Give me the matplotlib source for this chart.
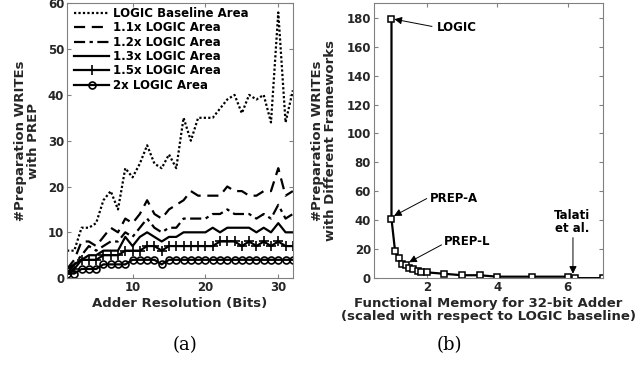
import matplotlib
matplotlib.use("Agg")
import matplotlib.pyplot as plt

# ---- data: (a) writes vs adder resolution ----
bits = list(range(1, 33))
baseline = [6, 6, 11, 11, 12, 17, 19, 15, 24, 22, 25, 29, 25, 24, 27, 24,
            35, 30, 35, 35, 35, 37, 39, 40, 36, 40, 39, 40, 34, 58, 34, 41]
area_1_1 = [2, 4, 8, 8, 7, 9, 11, 10, 13, 12, 14, 17, 14, 13, 15, 16,
            17, 19, 18, 18, 18, 18, 20, 19, 19, 18, 18, 19, 19, 24, 18, 19]
area_1_2 = [2, 3, 5, 7, 6, 7, 8, 8, 10, 9, 11, 13, 11, 10, 11, 11,
            13, 13, 13, 13, 14, 14, 15, 14, 14, 14, 13, 14, 13, 16, 13, 14]
area_1_3 = [1, 3, 4, 5, 5, 6, 6, 6, 9, 7, 9, 10, 9, 8, 9, 9,
            10, 10, 10, 10, 11, 10, 11, 11, 11, 11, 10, 11, 10, 12, 10, 10]
area_1_5 = [1, 2, 4, 4, 4, 5, 5, 5, 6, 6, 6, 7, 7, 6, 7, 7,
            7, 7, 7, 7, 7, 8, 8, 8, 7, 8, 7, 8, 7, 8, 7, 7]
area_2 = [1, 1, 2, 2, 2, 3, 3, 3, 3, 4, 4, 4, 4, 3, 4, 4,
          4, 4, 4, 4, 4, 4, 4, 4, 4, 4, 4, 4, 4, 4, 4, 4]
legend_labels = ["LOGIC Baseline Area", "1.1x LOGIC Area", "1.2x LOGIC Area",
                 "1.3x LOGIC Area", "1.5x LOGIC Area", "2x LOGIC Area"]

# ---- data: (b) writes vs functional memory ----
memory = [1.0, 1.0, 1.1, 1.2, 1.3, 1.4, 1.5, 1.6, 1.75, 1.85, 2.0,
          2.5, 3.0, 3.5, 4.0, 5.0, 6.0, 6.2, 7.0]
writes = [179, 41, 19, 14, 10, 9, 7, 6, 5, 4.5, 4,
          3, 2, 2, 1, 1, 1, 0, 0]

TXT = "#262626"
plt.rcParams["font.family"] = "DejaVu Sans"
plt.rcParams["font.weight"] = "bold"
plt.rcParams["axes.labelweight"] = "bold"

fig = plt.figure(figsize=(6.38, 3.65), dpi=100)
ax1 = fig.add_axes([0.105, 0.238, 0.354, 0.753])
ax2 = fig.add_axes([0.586, 0.238, 0.359, 0.753])

# (a)
ax1.plot(bits, baseline, color="black", lw=1.6, ls=(0, (1, 1)))
ax1.plot(bits, area_1_1, color="black", lw=1.6, ls=(0, (5, 3)))
ax1.plot(bits, area_1_2, color="black", lw=1.6, ls=(0, (5, 2, 1.5, 2)))
ax1.plot(bits, area_1_3, color="black", lw=1.6, ls="-")
ax1.plot(bits, area_1_5, color="black", lw=1.6, marker="+", ms=6.5, mew=1.2)
ax1.plot(bits, area_2, color="black", lw=1.6, marker="o", ms=5,
         mfc="none", mew=1.2)
leg = ax1.legend(legend_labels, loc="upper left", frameon=False,
                 bbox_to_anchor=(0.015, 1.0),
                 handlelength=3.0, fontsize=8.5, labelspacing=0.12,
                 borderaxespad=0.1, borderpad=0.2, handletextpad=0.35)
for t in leg.get_texts():
    t.set_color("black")
ax1.set_xlim(1, 32)
ax1.set_ylim(0, 60)
ax1.set_xticks([10, 20, 30])
ax1.set_yticks(range(0, 61, 10))
ax1.set_xlabel("Adder Resolution (Bits)", fontsize=9.5, color=TXT, labelpad=2)
ax1.set_ylabel("#Preparation WRITEs\nwith PREP", fontsize=9.5, color=TXT,
               labelpad=6, linespacing=1.0)

# (b)
ax2.plot(memory, writes, color="black", lw=1.6, marker="s", ms=5,
         mfc="white", mew=1.1)
ax2.set_xlim(0.5, 7)
ax2.set_ylim(0, 190)
ax2.set_xticks([2, 4, 6])
ax2.set_yticks(range(0, 181, 20))
ax2.set_xlabel("Functional Memory for 32-bit Adder\n(scaled with respect to LOGIC baseline)",
               fontsize=9.5, color=TXT, labelpad=2, linespacing=1.0)
ax2.set_ylabel("#Preparation WRITEs\nwith Different Frameworks", fontsize=9.5,
               color=TXT, labelpad=7, linespacing=1.0)

arrow = dict(arrowstyle="-|>", color="black", lw=0.7, mutation_scale=11,
             shrinkA=0, shrinkB=0)
ax2.text(2.3, 173, "LOGIC", fontsize=8.5, ha="left", va="center", color="black")
ax2.annotate("", xy=(1.08, 179), xytext=(2.15, 174), arrowprops=arrow)
ax2.text(2.1, 55, "PREP-A", fontsize=8.5, ha="left", va="center", color="black")
ax2.annotate("", xy=(1.07, 43), xytext=(2.0, 55), arrowprops=arrow)
ax2.text(2.5, 25, "PREP-L", fontsize=8.5, ha="left", va="center", color="black")
ax2.annotate("", xy=(1.5, 11), xytext=(2.42, 23), arrowprops=arrow)
ax2.text(6.12, 30, "Talati\net al.", fontsize=8.5, ha="center", va="bottom",
         color="black", linespacing=1.0)
ax2.annotate("", xy=(6.15, 3), xytext=(6.15, 28), arrowprops=arrow)

for ax in (ax1, ax2):
    ax.tick_params(direction="in", top=True, right=True, length=3,
                   labelsize=8.5, labelcolor=TXT, color="#808080", pad=2)
    for s in ax.spines.values():
        s.set_color("#808080")
        s.set_linewidth(0.8)

fig.text(0.29, 0.055, "(a)", fontsize=13, family="DejaVu Serif",
         weight="normal", ha="center", va="center", color="black")
fig.text(0.705, 0.055, "(b)", fontsize=13, family="DejaVu Serif",
         weight="normal", ha="center", va="center", color="black")

fig.savefig("out.png", dpi=100)
